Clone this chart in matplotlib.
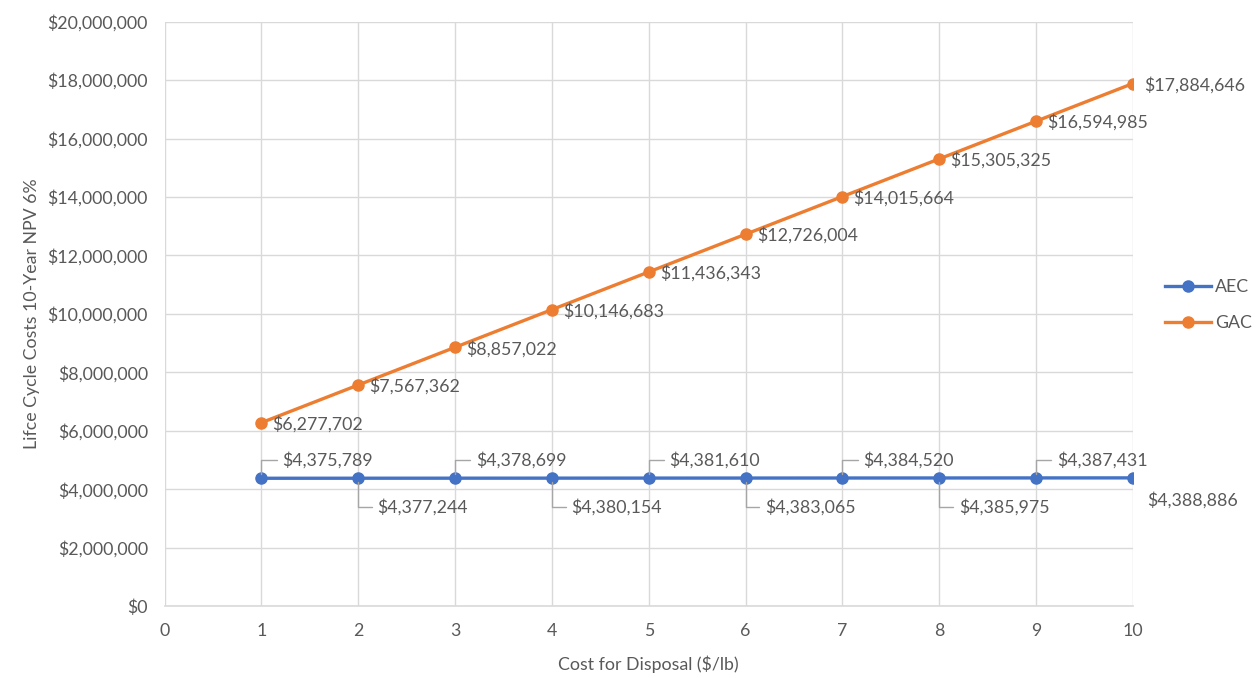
import numpy as np
import matplotlib.pyplot as plt
from matplotlib.ticker import FuncFormatter, MultipleLocator

plt.rcParams['font.family'] = ['Lato', 'DejaVu Sans']

disposal = [1, 2, 3, 4, 5, 6, 7, 8, 9, 10]
aec = [4375789, 4377244, 4378699, 4380154, 4381610,
       4383065, 4384520, 4385975, 4387431, 4388886]
gac = [6277702, 7567362, 8857022, 10146683, 11436343,
       12726004, 14015664, 15305325, 16594985, 17884646]

txt = '#595959'
grid = '#d9d9d9'
fs = 12.8

fig = plt.figure(figsize=(12.56, 6.78), dpi=100)
ax = fig.add_axes([0.131, 0.106, 0.771, 0.862])

ax.plot(disposal, aec, color='#4472C4', lw=2.4, marker='o', ms=8, label='AEC', zorder=3)
ax.plot(disposal, gac, color='#ED7D31', lw=2.4, marker='o', ms=8, label='GAC', zorder=3)

ax.set_xlim(0, 10)
ax.set_ylim(0, 20000000)
ax.xaxis.set_major_locator(MultipleLocator(1))
ax.yaxis.set_major_locator(MultipleLocator(2000000))
ax.yaxis.set_major_formatter(FuncFormatter(lambda v, p: '${:,.0f}'.format(v)))
ax.grid(True, color=grid, lw=1)
ax.set_axisbelow(True)
for s in ['top', 'right', 'left']:
    ax.spines[s].set_visible(False)
ax.spines['bottom'].set_color(grid)
ax.spines['bottom'].set_linewidth(1.2)
ax.tick_params(length=0, colors=txt, labelsize=12.8, pad=12)
ax.set_xlabel('Cost for Disposal ($/lb)', color=txt, fontsize=12.8, labelpad=12)
ax.set_ylabel('Lifce Cycle Costs 10-Year NPV 6%', color=txt, fontsize=12.8, labelpad=5)

# GAC labels to the right
for x, v in zip(disposal, gac):
    ax.annotate('${:,.0f}'.format(v), (x, v), xytext=(8, -1), textcoords='offset points',
                ha='left', va='center', color=txt, fontsize=fs)

# AEC labels alternate above / below with leader lines
for x, v in zip(disposal, aec):
    lab = '${:,.0f}'.format(v)
    if x == 10:
        ax.annotate(lab, (x, v), xytext=(10, -16), textcoords='offset points',
                    ha='left', va='center', color=txt, fontsize=fs)
    elif x % 2 == 1:
        ax.annotate(lab, (x, v), xytext=(15, 13), textcoords='offset points',
                    ha='left', va='center', color=txt, fontsize=fs,
                    arrowprops=dict(arrowstyle='-', color='#a6a6a6', lw=1,
                                    shrinkA=2, shrinkB=3,
                                    connectionstyle='angle,angleA=180,angleB=90,rad=0'))
    else:
        ax.annotate(lab, (x, v), xytext=(14, -21), textcoords='offset points',
                    ha='left', va='center', color=txt, fontsize=fs,
                    arrowprops=dict(arrowstyle='-', color='#a6a6a6', lw=1,
                                    shrinkA=2, shrinkB=3,
                                    connectionstyle='angle,angleA=180,angleB=90,rad=0'))

leg = fig.legend(loc='center left', bbox_to_anchor=(1165 / 1256, 1 - 305 / 678),
                 frameon=False, fontsize=fs, handlelength=2.6, labelspacing=1.15,
                 handletextpad=0.2, borderaxespad=0, borderpad=0)
for t in leg.get_texts():
    t.set_color(txt)

fig.savefig('out.png', dpi=100)
